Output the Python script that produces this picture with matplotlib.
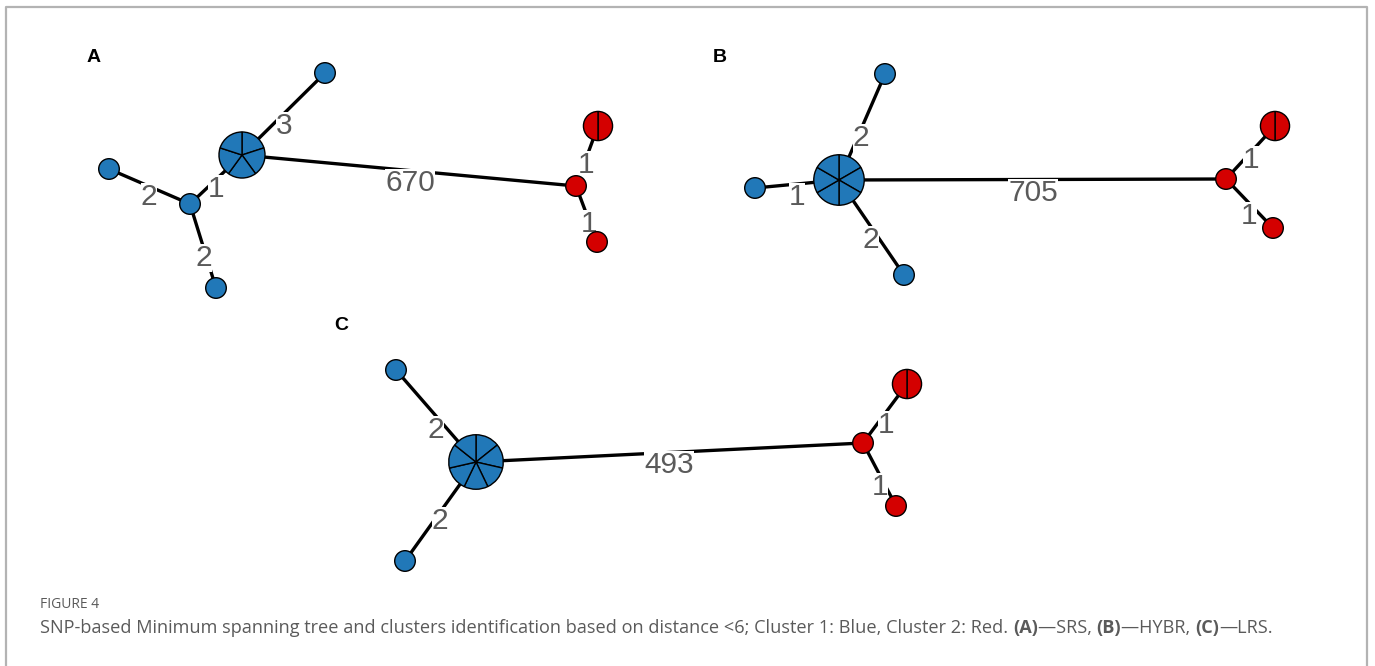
import matplotlib
matplotlib.use("Agg")
import matplotlib.pyplot as plt
from matplotlib.patches import Wedge, Circle
import numpy as np

# ---------------- data ----------------
panel_letters = ["A", "B", "C"]
panel_names = ["SRS", "HYBR", "LRS"]

# node isolate counts and clusters per panel
A_counts = [5, 1, 1, 1, 1, 1, 2, 1]
A_cluster = [1, 1, 1, 1, 1, 2, 2, 2]
A_edges = [(0, 1), (0, 2), (2, 3), (2, 4), (0, 5), (5, 6), (5, 7)]
A_weights = [3, 1, 2, 2, 670, 1, 1]

B_counts = [6, 1, 1, 1, 1, 2, 1]
B_cluster = [1, 1, 1, 1, 2, 2, 2]
B_edges = [(0, 1), (0, 2), (0, 3), (0, 4), (4, 5), (4, 6)]
B_weights = [2, 1, 2, 705, 1, 1]

C_counts = [7, 1, 1, 1, 2, 1]
C_cluster = [1, 1, 1, 2, 2, 2]
C_edges = [(0, 1), (0, 2), (0, 3), (3, 4), (3, 5)]
C_weights = [2, 2, 493, 1, 1]

caption_head = "FIGURE 4"
caption_parts = [
    ("SNP-based Minimum spanning tree and clusters identification based on distance <6; Cluster 1: Blue, Cluster 2: Red. ", False),
    ("(A)", True), ("\u2014SRS, ", False),
    ("(B)", True), ("\u2014HYBR, ", False),
    ("(C)", True), ("\u2014LRS.", False),
]

# ---------------- layout (pixel space) ----------------
A_pos = [(242, 155), (325, 73), (190, 204), (109, 169), (216, 288), (576, 186), (598, 126), (597, 242)]
A_lab = [(284, 126), (216, 189), (149, 197), (204, 258), (410, 183), (586, 165), (589, 224)]
B_pos = [(839, 180), (885, 74), (755, 188), (904, 275), (1226, 179), (1275, 126), (1273, 228)]
B_lab = [(861, 138), (797, 197), (871, 240), (1033, 193), (1251, 160), (1249, 216)]
C_pos = [(476, 462), (396, 370), (405, 561), (863, 443), (907, 384), (896, 506)]
C_lab = [(436, 430), (440, 521), (669, 465), (886, 425), (880, 487)]
letter_pos = [(94, 58), (720, 58), (341, 325)]

colors = {1: "#2178b8", 2: "#d40000"}

W, H = 1375, 666
fig = plt.figure(figsize=(W / 100, H / 100), dpi=100)
ax = fig.add_axes([0, 0, 1, 1])
ax.set_xlim(0, W)
ax.set_ylim(H, 0)
ax.axis("off")

# frame (open at the bottom)
ax.plot([6, 6, 1367, 1367], [666, 7, 7, 666], color="#b3b3b3", lw=1.6, solid_capstyle="butt")


def radius(n):
    return 10.3 * np.sqrt(n)


def draw_panel(pos, counts, cluster, edges, weights, labs):
    for (i, j), w, (lx, ly) in zip(edges, weights, labs):
        ax.plot([pos[i][0], pos[j][0]], [pos[i][1], pos[j][1]], color="black", lw=2.4, zorder=1,
                solid_capstyle="butt")
        ax.text(lx, ly, str(w), ha="center", va="center", fontsize=21.5, color="#5a5a5a",
                family="Liberation Sans", zorder=2,
                bbox=dict(facecolor="white", edgecolor="none", pad=0.0))
    for (x, y), n, c in zip(pos, counts, cluster):
        r = radius(n)
        col = colors[c]
        if n == 1:
            ax.add_patch(Circle((x, y), r, facecolor=col, edgecolor="black", lw=1.0, zorder=3))
        else:
            step = 360.0 / n
            for k in range(n):
                t1 = 270 + k * step
                ax.add_patch(Wedge((x, y), r, t1, t1 + step, facecolor=col, edgecolor="black",
                                   lw=1.0, zorder=3))


draw_panel(A_pos, A_counts, A_cluster, A_edges, A_weights, A_lab)
draw_panel(B_pos, B_counts, B_cluster, B_edges, B_weights, B_lab)
draw_panel(C_pos, C_counts, C_cluster, C_edges, C_weights, C_lab)

for (x, y), L in zip(letter_pos, panel_letters):
    ax.text(x, y, L, ha="center", va="center", fontsize=14, fontweight="bold",
            family="Liberation Sans", color="black")

# caption
ax.text(40, 604, caption_head, ha="left", va="center", fontsize=10, color="#5a5a5a",
        family="Open Sans")
fig.canvas.draw()
renderer = fig.canvas.get_renderer()
x = 40
for s, bold in caption_parts:
    t = ax.text(x, 628, s, ha="left", va="center", fontsize=13.1, color="#5a5a5a",
                family="Open Sans", fontweight="bold" if bold else "normal")
    bb = t.get_window_extent(renderer=renderer)
    x += bb.width  # pixel units == data units (1:1 mapping)

fig.savefig("out.png", dpi=100)
